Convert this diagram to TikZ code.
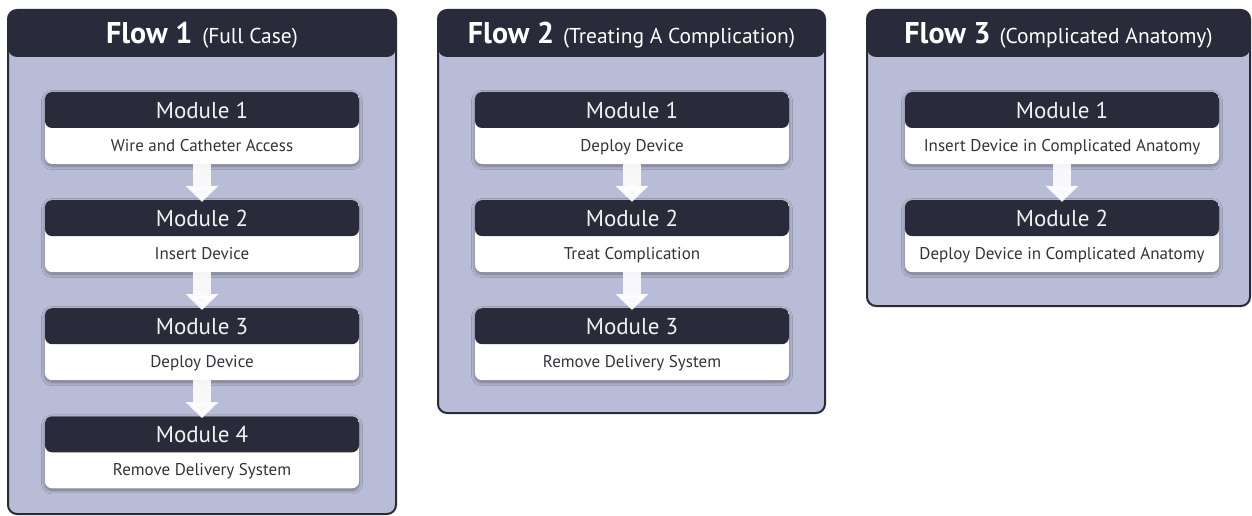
\documentclass[tikz,border=0pt]{standalone}
\usepackage{fontspec}
\setmainfont{PT Sans}
\usetikzlibrary{positioning,arrows.meta,shadows.blur}

\definecolor{headdark}{HTML}{2A2B3A}
\definecolor{panelfill}{HTML}{B9BCD7}
\definecolor{bodytext}{HTML}{33333D}

\newcommand{\flowsub}[1]{{\mdseries\fontsize{21.5}{25}\selectfont #1}}

\tikzset{
  panel/.style={draw=headdark, line width=2pt, fill=panelfill, rounded corners=9pt, inner sep=0pt,
    path picture={\fill[headdark] (path picture bounding box.north west) rectangle ([yshift=-47pt]path picture bounding box.north east);}},
  flowtitle/.style={anchor=center, yshift=-24pt, text=white, inner sep=0pt, text height=21pt, text depth=0pt,
    font=\bfseries\fontsize{30}{36}\selectfont},
  module/.style={fill=white, rounded corners=7pt, minimum width=314pt, minimum height=72pt, inner sep=0pt,
    text=bodytext, font=\fontsize{17}{20}\selectfont, text height=51pt, text depth=4pt,
    blur shadow={shadow xshift=0pt, shadow yshift=-2pt, shadow blur radius=3.5pt, shadow blur steps=10, shadow opacity=40},
    path picture={\fill[headdark] (path picture bounding box.north west) rectangle ([yshift=-36pt]path picture bounding box.north east);}},
  modtitle/.style={anchor=center, yshift=-18pt, text=white!95!black, inner sep=0pt, text height=16.5pt, text depth=0pt,
    font=\fontsize{23}{27}\selectfont},
  flowarrow/.style={line width=18pt, white, opacity=0.9, shorten >=-2pt, -{Triangle[length=16pt,width=32pt]}}
}

\begin{document}
\begin{tikzpicture}[x=1pt, y=-1pt]
  \useasboundingbox (0,0) rectangle (1252,516);

  % the three flow panels
  \node[panel, minimum width=388pt, minimum height=504pt,
    label={[flowtitle]north:Flow 1\hspace{10pt}\flowsub{(Full Case)}}] (flow1) at (202,262) {};
  \node[panel, minimum width=387pt, minimum height=403pt,
    label={[flowtitle]north:Flow 2\hspace{9pt}\flowsub{(Treating A Complication)}}] (flow2) at (631.5,211.5) {};
  \node[panel, minimum width=383pt, minimum height=296pt,
    label={[flowtitle]north:Flow 3\hspace{9pt}\flowsub{(Complicated Anatomy)}}] (flow3) at (1058.5,158) {};

  % flow 1: full case
  \node[module, label={[modtitle]north:Module 1}] (f1m1) at (202,128) {Wire and Catheter Access};
  \node[module, below=35.7pt of f1m1, label={[modtitle]north:Module 2}] (f1m2) {Insert Device};
  \node[module, below=35.7pt of f1m2, label={[modtitle]north:Module 3}] (f1m3) {Deploy Device};
  \node[module, below=35.7pt of f1m3, label={[modtitle]north:Module 4}] (f1m4) {Remove Delivery System};
  \draw[flowarrow] (f1m1) -- (f1m2);
  \draw[flowarrow] (f1m2) -- (f1m3);
  \draw[flowarrow] (f1m3) -- (f1m4);

  % flow 2: treating a complication
  \node[module, label={[modtitle]north:Module 1}] (f2m1) at (632,128) {Deploy Device};
  \node[module, below=35.7pt of f2m1, label={[modtitle]north:Module 2}] (f2m2) {Treat Complication};
  \node[module, below=35.7pt of f2m2, label={[modtitle]north:Module 3}] (f2m3) {Remove Delivery System};
  \draw[flowarrow] (f2m1) -- (f2m2);
  \draw[flowarrow] (f2m2) -- (f2m3);

  % flow 3: complicated anatomy
  \node[module, label={[modtitle]north:Module 1}] (f3m1) at (1062,128) {Insert Device in Complicated Anatomy};
  \node[module, below=35.7pt of f3m1, label={[modtitle]north:Module 2}] (f3m2) {Deploy Device in Complicated Anatomy};
  \draw[flowarrow] (f3m1) -- (f3m2);
\end{tikzpicture}
\end{document}
